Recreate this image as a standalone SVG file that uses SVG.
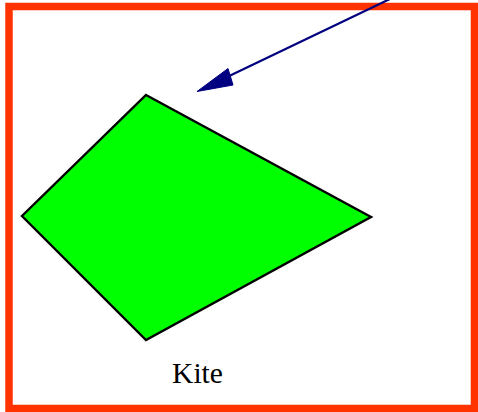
<svg xmlns="http://www.w3.org/2000/svg" width="478" height="412" viewBox="0 0 478 412">
<style>
.frame{fill:none;stroke:#ff3300;stroke-width:7.5}
.kite{fill:#00ff00;stroke:#000;stroke-width:2.4;stroke-linejoin:miter}
.conn{stroke:#000080;stroke-width:2.2;fill:none}
.head{fill:#000080;stroke:#000080;stroke-width:1}
.label{font-family:"Liberation Serif",serif;font-size:29.5px;fill:#000}
</style>
<rect class="frame" x="9" y="6.5" width="465.5" height="402"/>
<g id="kite">
<polygon class="kite" points="146,95 371,217 146,340 22,216"/>
</g>
<g id="label">
<text class="label" x="197.5" y="382.5" text-anchor="middle">Kite</text>
</g>
<g id="connectors">
<line class="conn" x1="392" y1="-2" x2="225" y2="78"/>
<polygon class="head" points="197,91.5 228,68.5 233,85"/>
</g>
</svg>
